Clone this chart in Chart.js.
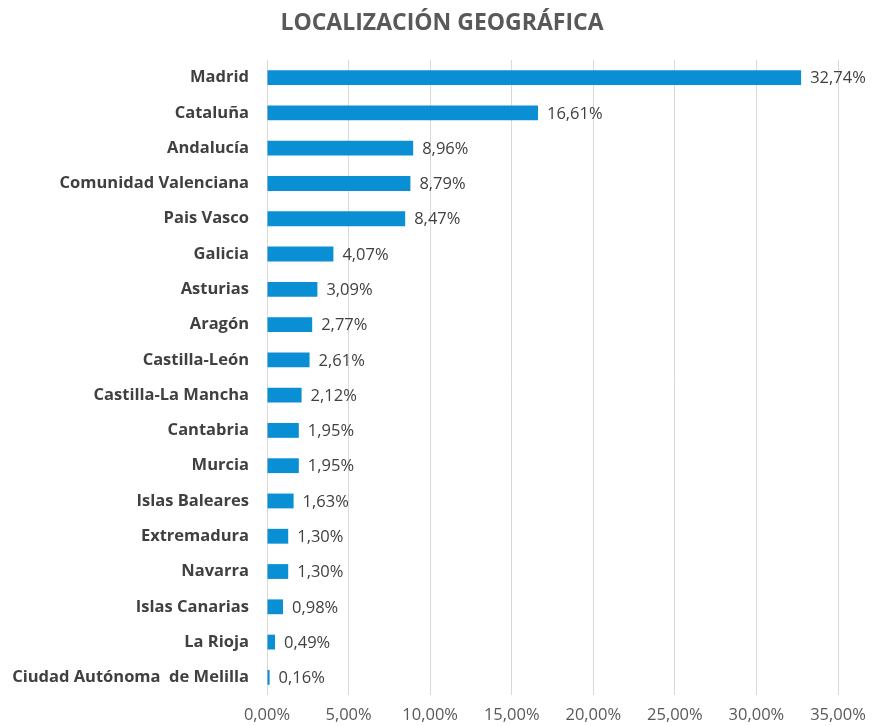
<!DOCTYPE html>
<html>
<head>
<meta charset="utf-8">
<script src="https://cdn.jsdelivr.net/npm/chart.js@4/dist/chart.umd.min.js"></script>
<style>
  body { margin: 0; background: #fff; }
</style>
</head>
<body>
<canvas id="chart" width="874" height="726"></canvas>
<script>
const regiones = ['Madrid', 'Cataluña', 'Andalucía', 'Comunidad Valenciana', 'Pais Vasco', 'Galicia',
  'Asturias', 'Aragón', 'Castilla-León', 'Castilla-La Mancha', 'Cantabria', 'Murcia',
  'Islas Baleares', 'Extremadura', 'Navarra', 'Islas Canarias', 'La Rioja', 'Ciudad Autónoma  de Melilla'];
const porcentajes = [32.74, 16.61, 8.96, 8.79, 8.47, 4.07, 3.09, 2.77, 2.61, 2.12, 1.95, 1.95,
  1.63, 1.30, 1.30, 0.98, 0.49, 0.16];
const titulo = 'LOCALIZACIÓN GEOGRÁFICA';
const ejeMax = 35;
const ejePaso = 5;

const fmt = v => v.toFixed(2).replace('.', ',') + '%';
const FONT = '"Open Sans", "Noto Sans", sans-serif';

// labels at the end of each bar + title centred on the whole canvas
const etiquetas = {
  id: 'etiquetas',
  afterDatasetsDraw(chart) {
    const ctx = chart.ctx;
    const meta = chart.getDatasetMeta(0);
    ctx.save();
    ctx.font = '16.5px ' + FONT;
    ctx.fillStyle = '#404040';
    ctx.textAlign = 'left';
    ctx.textBaseline = 'middle';
    meta.data.forEach((bar, i) => {
      ctx.fillText(fmt(porcentajes[i]), bar.x + 9, bar.y + 1);
    });
    ctx.font = 'bold 23px ' + FONT;
    ctx.fillStyle = '#595959';
    ctx.textAlign = 'center';
    ctx.fillText(titulo, 442, 23);
    ctx.restore();
  }
};

const ctx = document.getElementById('chart').getContext('2d');
const chart = new Chart(ctx, {
  type: 'bar',
  data: {
    labels: regiones,
    datasets: [{
      data: porcentajes,
      backgroundColor: '#0a8fd5',
      barPercentage: 0.42,
      categoryPercentage: 1
    }]
  },
  options: {
    indexAxis: 'y',
    responsive: false,
    animation: false,
    layout: { padding: { left: 0, right: 36, top: 60, bottom: 0 } },
    plugins: {
      legend: { display: false },
      tooltip: { enabled: false },
      title: { display: false }
    },
    scales: {
      x: {
        min: 0,
        max: ejeMax,
        ticks: {
          stepSize: ejePaso,
          color: '#595959',
          font: { family: FONT, size: 16.5 },
          padding: 10,
          callback: v => fmt(v)
        },
        grid: { color: '#d9d9d9', drawTicks: false },
        border: { display: false },
        afterFit: s => { s.height = 31; s.paddingRight = 0; s.paddingLeft = 0; }
      },
      y: {
        ticks: {
          color: '#404040',
          font: { family: FONT, size: 16.5, weight: 'bold' },
          padding: 18
        },
        grid: { display: false, drawTicks: false },
        border: { display: false },
        afterFit: s => { s.width = 267; }
      }
    }
  },
  plugins: [etiquetas]
});
</script>
</body>
</html>
